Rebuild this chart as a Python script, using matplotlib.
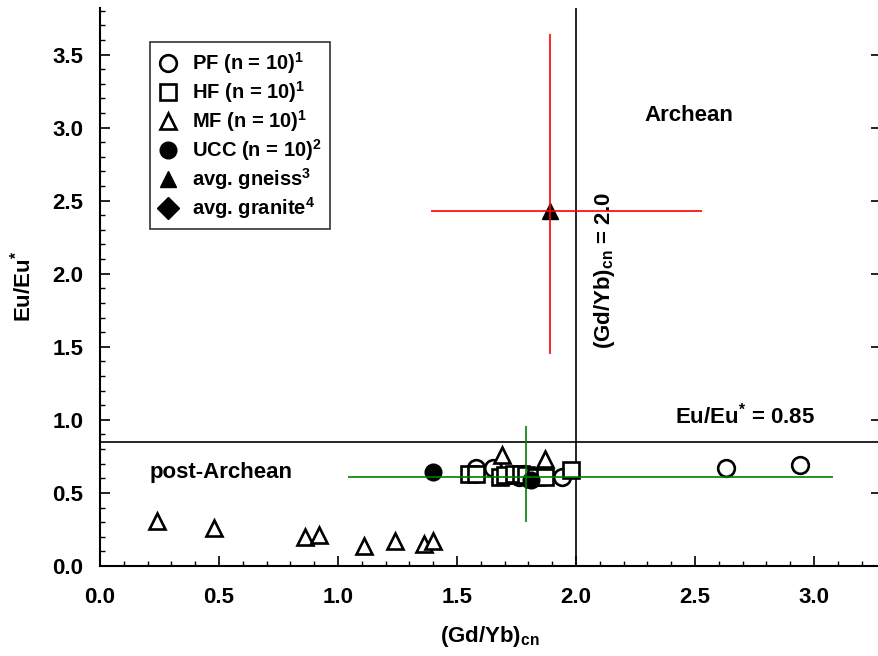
import matplotlib
matplotlib.use('Agg')
import matplotlib.pyplot as plt
from matplotlib.ticker import MultipleLocator

plt.rcParams['font.family'] = ['Liberation Sans', 'DejaVu Sans']
plt.rcParams['font.weight'] = 'bold'
plt.rcParams['mathtext.fontset'] = 'custom'
plt.rcParams['mathtext.rm'] = 'Liberation Sans:bold'
plt.rcParams['mathtext.bf'] = 'Liberation Sans:bold'
plt.rcParams['mathtext.it'] = 'Liberation Sans:bold'

# ── data ─────────────────────────────────────────────────────────────────────
pf_x = [1.58, 1.65, 1.72, 1.76, 1.78, 1.80, 1.83, 1.94, 2.63, 2.94]
pf_y = [0.67, 0.67, 0.62, 0.61, 0.63, 0.60, 0.61, 0.61, 0.67, 0.69]

hf_x = [1.55, 1.58, 1.68, 1.70, 1.74, 1.77, 1.79, 1.83, 1.87, 1.98]
hf_y = [0.63, 0.63, 0.61, 0.62, 0.63, 0.63, 0.62, 0.61, 0.61, 0.66]

mf_x = [0.24, 0.48, 0.86, 0.92, 1.11, 1.24, 1.36, 1.40, 1.69, 1.87]
mf_y = [0.31, 0.26, 0.20, 0.21, 0.14, 0.17, 0.15, 0.17, 0.76, 0.73]

ucc_x = [1.40, 1.81]
ucc_y = [0.64, 0.59]

gneiss_x, gneiss_y = [1.89], [2.43]
gneiss_xerr = [[0.50], [0.64]]
gneiss_yerr = [[0.98], [1.21]]

granite_x, granite_y = [1.79], [0.61]
granite_xerr = [[0.75], [1.29]]
granite_yerr = [[0.31], [0.35]]

gdyb_limit = 2.0
eu_limit = 0.85

# ── plot ─────────────────────────────────────────────────────────────────────
fig = plt.figure(figsize=(8.79, 6.56), dpi=100)
ax = fig.add_axes([0.1138, 0.1372, 0.888, 0.851])

ms = 12
mew = 1.9
ax.plot(pf_x, pf_y, 'o', ms=ms, mfc='white', mec='black', mew=mew,
        label='PF (n = 10)$^{1}$', zorder=4)
ax.plot(hf_x, hf_y, 's', ms=ms, mfc='white', mec='black', mew=mew,
        label='HF (n = 10)$^{1}$', zorder=4)
ax.plot(mf_x, mf_y, '^', ms=ms, mfc='white', mec='black', mew=mew,
        label='MF (n = 10)$^{1}$', zorder=4)
ax.plot(ucc_x, ucc_y, 'o', ms=ms, mfc='black', mec='black',
        label='UCC (n = 10)$^{2}$', zorder=5)
ax.plot(gneiss_x, gneiss_y, '^', ms=ms, mfc='black', mec='black',
        label='avg. gneiss$^{3}$', zorder=5)
ax.plot(granite_x, granite_y, 'D', ms=ms - 1, mfc='black', mec='black',
        label='avg. granite$^{4}$', zorder=3)

ax.errorbar(gneiss_x, gneiss_y, xerr=gneiss_xerr, yerr=gneiss_yerr,
            fmt='none', ecolor='red', elinewidth=1.2, capsize=0, zorder=6)
ax.errorbar(granite_x, granite_y, xerr=granite_xerr, yerr=granite_yerr,
            fmt='none', ecolor='green', elinewidth=1.2, capsize=0, zorder=6)

ax.axvline(gdyb_limit, color='black', lw=1.2, zorder=2)
ax.axhline(eu_limit, color='black', lw=1.2, zorder=2)

ax.text(2.475, 3.08, 'Archean', fontsize=16, fontweight='bold',
        ha='center', va='center')
ax.text(0.51, 0.64, 'post-Archean', fontsize=16, fontweight='bold',
        ha='center', va='center')
ax.text(2.71, 1.03, 'Eu/Eu$^{*}$ = 0.85', fontsize=16, fontweight='bold',
        ha='center', va='center')
ax.text(2.12, 2.02, '(Gd/Yb)$_{\\mathrm{cn}}$ = 2.0', fontsize=16,
        fontweight='bold', ha='center', va='center', rotation=90)

ax.set_xlim(0, 3.28)
ax.set_ylim(0, 3.82)
ax.xaxis.set_major_locator(MultipleLocator(0.5))
ax.xaxis.set_minor_locator(MultipleLocator(0.1))
ax.yaxis.set_major_locator(MultipleLocator(0.5))
ax.yaxis.set_minor_locator(MultipleLocator(0.1))
ax.xaxis.set_major_formatter(plt.FormatStrFormatter('%.1f'))
ax.yaxis.set_major_formatter(plt.FormatStrFormatter('%.1f'))
ax.tick_params(which='major', direction='in', length=7, width=1.2,
               labelsize=16, right=True)
ax.tick_params(axis='x', which='major', pad=15)
ax.tick_params(axis='y', which='major', pad=12)
ax.tick_params(which='minor', direction='in', length=3.5, width=1.0)
for lbl in ax.get_xticklabels() + ax.get_yticklabels():
    lbl.set_fontweight('bold')
ax.spines['top'].set_visible(False)
for s in ('left', 'bottom', 'right'):
    ax.spines[s].set_linewidth(1.5)

ax.set_xlabel('(Gd/Yb)$_{\\mathrm{cn}}$', fontsize=16, fontweight='bold',
              labelpad=12)
ax.set_ylabel('Eu/Eu$^{*}$', fontsize=16, fontweight='bold', labelpad=12)

leg = ax.legend(loc='upper left', bbox_to_anchor=(0.064, 0.938),
                borderaxespad=0, fancybox=False, frameon=True,
                edgecolor='black', fontsize=14.5, handlelength=1.0,
                handletextpad=0.7, labelspacing=0.15, borderpad=0.4,
                numpoints=1)
leg.get_frame().set_linewidth(1.2)
for t in leg.get_texts():
    t.set_fontweight('bold')

fig.savefig('out.png', dpi=100)
plt.close(fig)
